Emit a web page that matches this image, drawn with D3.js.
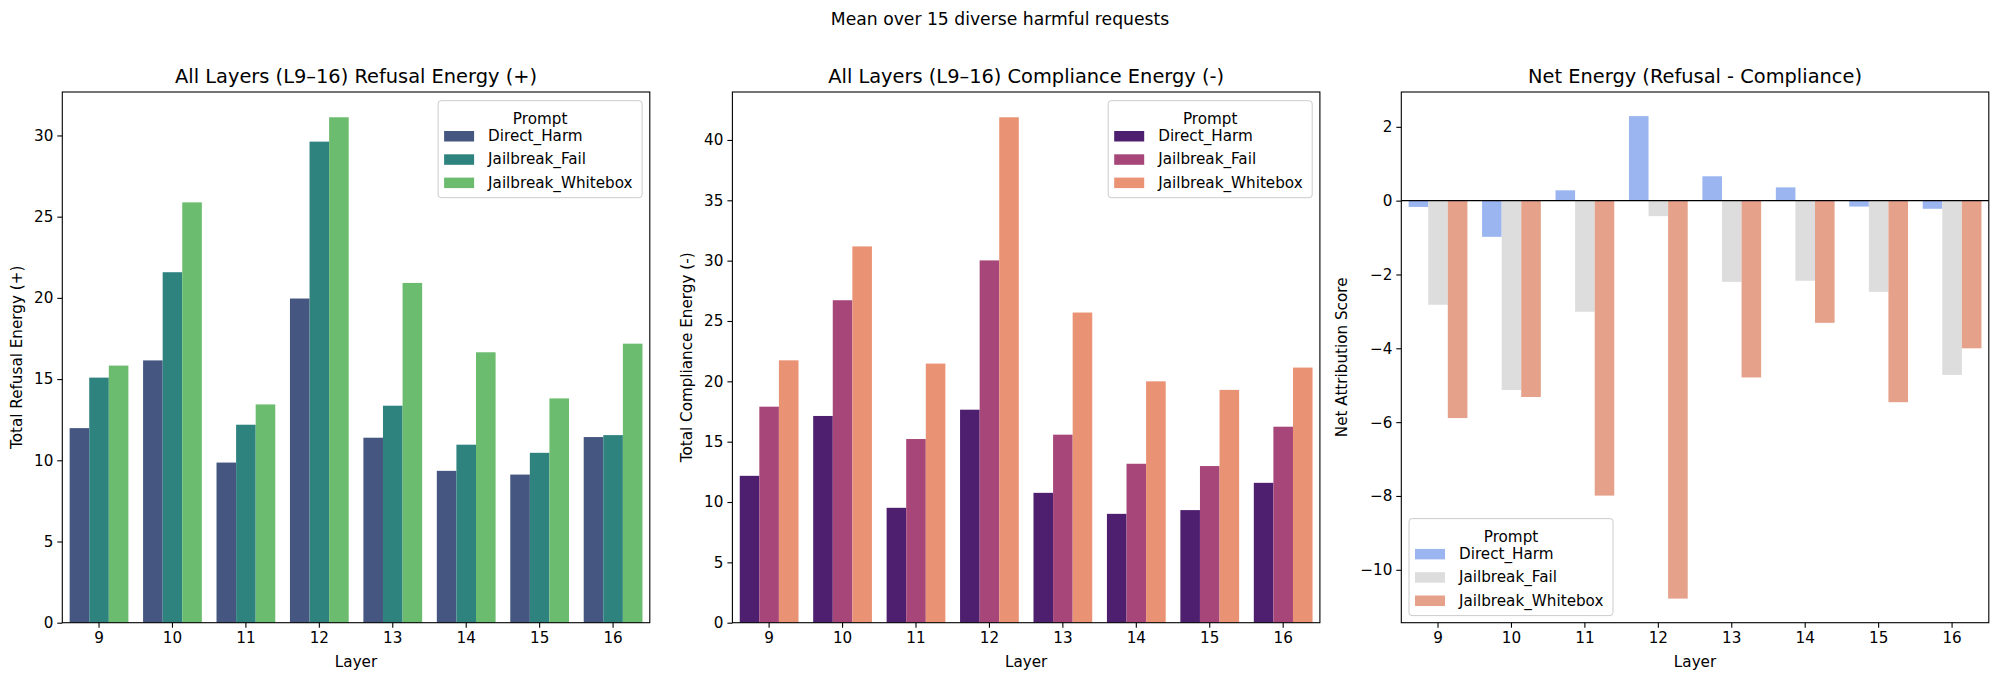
<!DOCTYPE html>
<html>
<head>
<meta charset="utf-8">
<script src="https://cdn.jsdelivr.net/npm/d3@7/dist/d3.min.js"></script>
<style>
  html, body { margin: 0; padding: 0; background: #fff; }
  svg { display: block; font-family: "DejaVu Sans", sans-serif; }
</style>
</head>
<body>
<svg id="chart" width="2000" height="681"></svg>
<script>
// ---------- data ----------
const layers = ["9", "10", "11", "12", "13", "14", "15", "16"];
const prompts = ["Direct_Harm", "Jailbreak_Fail", "Jailbreak_Whitebox"];

const refusalDirect    = [11.98, 16.15, 9.86, 19.96, 11.39, 9.35, 9.12, 11.43];
const refusalFail      = [15.09, 21.58, 12.19, 29.62, 13.36, 10.96, 10.46, 11.55];
const refusalWhitebox  = [15.83, 25.88, 13.44, 31.12, 20.92, 16.65, 13.81, 17.18];

const complianceDirect   = [12.17, 17.13, 9.52, 17.65, 10.76, 9.02, 9.33, 11.59];
const complianceFail     = [17.90, 26.72, 15.22, 30.02, 15.58, 13.17, 12.98, 16.24];
const complianceWhitebox = [21.74, 31.18, 21.47, 41.88, 25.70, 20.00, 19.29, 21.14];

const netDirect   = [-0.17, -0.98, 0.28, 2.29, 0.66, 0.36, -0.16, -0.22];
const netFail     = [-2.82, -5.13, -3.01, -0.42, -2.20, -2.17, -2.47, -4.72];
const netWhitebox = [-5.89, -5.32, -7.99, -10.78, -4.79, -3.31, -5.46, -4.00];

const refusalTicks = [0, 5, 10, 15, 20, 25, 30];
const complianceTicks = [0, 5, 10, 15, 20, 25, 30, 35, 40];
const netTicks = [-10, -8, -6, -4, -2, 0, 2];

const suptitle = "Mean over 15 diverse harmful requests";

// ---------- layout / style ----------
const svg = d3.select("#chart");
const TOP = 92, BOTTOM = 622.7, PW = 587.5;
const FONT = 15.2;

svg.append("text")
  .attr("x", 1000).attr("y", 25)
  .attr("text-anchor", "middle")
  .attr("font-size", 17.2).attr("fill", "#000")
  .text(suptitle);

function panel(cfg) {
  const left = cfg.left, right = left + PW;
  const g = svg.append("g");

  const x = d3.scaleBand().domain(layers).range([left, right]).padding(0);
  const hue = d3.scaleBand().domain(prompts)
    .range([x.bandwidth() * 0.1, x.bandwidth() * 0.9]).padding(0);
  const y = d3.scaleLinear().domain(cfg.domain).range([BOTTOM, TOP]);
  const color = d3.scaleOrdinal().domain(prompts).range(cfg.colors);

  const rows = [];
  prompts.forEach((p, pi) => {
    cfg.series[pi].forEach((v, li) => rows.push({ layer: layers[li], prompt: p, value: v }));
  });

  g.selectAll("rect.bar").data(rows).enter().append("rect")
    .attr("class", "bar")
    .attr("x", d => x(d.layer) + hue(d.prompt))
    .attr("width", hue.bandwidth())
    .attr("y", d => Math.min(y(d.value), y(0)))
    .attr("height", d => Math.abs(y(d.value) - y(0)))
    .attr("fill", d => color(d.prompt));

  if (cfg.zeroLine) {
    g.append("line")
      .attr("x1", left).attr("x2", right)
      .attr("y1", y(0)).attr("y2", y(0))
      .attr("stroke", "#000").attr("stroke-width", 1.4);
  }

  // axes
  const xAxis = d3.axisBottom(x).tickSize(5).tickPadding(5);
  const gx = g.append("g").attr("transform", `translate(0,${BOTTOM})`).call(xAxis);
  const yAxis = d3.axisLeft(y).tickValues(cfg.ticks).tickSize(5).tickPadding(4)
    .tickFormat(d3.format("d"));
  const gy = g.append("g").attr("transform", `translate(${left},0)`).call(yAxis);
  [gx, gy].forEach(a => {
    a.select(".domain").remove();
    a.selectAll(".tick line").attr("stroke", "#000").attr("stroke-width", 1.1);
    a.selectAll(".tick text").attr("font-size", FONT).attr("fill", "#000")
      .attr("font-family", "DejaVu Sans");
  });

  // frame
  g.append("rect")
    .attr("x", left).attr("y", TOP)
    .attr("width", PW).attr("height", BOTTOM - TOP)
    .attr("fill", "none").attr("stroke", "#000").attr("stroke-width", 1.1);

  // title
  g.append("text")
    .attr("x", left + PW / 2).attr("y", 83)
    .attr("text-anchor", "middle").attr("font-size", 19.4).attr("fill", "#000")
    .text(cfg.title);

  // axis labels
  g.append("text")
    .attr("x", left + PW / 2).attr("y", 667)
    .attr("text-anchor", "middle").attr("font-size", FONT).attr("fill", "#000")
    .text("Layer");
  const yl = left - cfg.ylabelOffset, ym = (TOP + BOTTOM) / 2;
  g.append("text")
    .attr("transform", `translate(${yl},${ym}) rotate(-90)`)
    .attr("text-anchor", "middle").attr("dominant-baseline", "central")
    .attr("font-size", FONT).attr("fill", "#000")
    .text(cfg.ylabel);

  // legend
  const lx = cfg.legendRight ? right - 7.7 - 204 : left + 7.7;
  const ly = cfg.legendRight ? 100.7 : 518.6;
  const lg = g.append("g").attr("transform", `translate(${lx},${ly})`);
  lg.append("rect").attr("width", 204).attr("height", 97).attr("rx", 3)
    .attr("fill", "#fff").attr("fill-opacity", 0.8)
    .attr("stroke", "#cccccc").attr("stroke-width", 1);
  lg.append("text").attr("x", 102).attr("y", 23).attr("text-anchor", "middle")
    .attr("font-size", FONT).attr("fill", "#000").text("Prompt");
  prompts.forEach((p, i) => {
    const cy = 35.5 + i * 23.3;
    lg.append("rect").attr("x", 6).attr("y", cy - 5.2).attr("width", 30).attr("height", 10.5)
      .attr("fill", color(p));
    lg.append("text").attr("x", 50).attr("y", cy).attr("dominant-baseline", "central")
      .attr("font-size", FONT).attr("fill", "#000").text(p);
  });
}

function padDomain(arrs, includeZeroMin) {
  const all = arrs.flat();
  let lo = Math.min(0, d3.min(all)), hi = Math.max(0, d3.max(all));
  const m = (hi - lo) * 0.05;
  return [includeZeroMin ? 0 : lo - m, hi + m];
}

panel({
  left: 62.3,
  title: "All Layers (L9–16) Refusal Energy (+)",
  ylabel: "Total Refusal Energy (+)",
  series: [refusalDirect, refusalFail, refusalWhitebox],
  domain: padDomain([refusalDirect, refusalFail, refusalWhitebox], true),
  ticks: refusalTicks,
  colors: ["#455681", "#2f837f", "#6bbc6e"],
  legendRight: true,
  ylabelOffset: 45
});

panel({
  left: 732.4,
  title: "All Layers (L9–16) Compliance Energy (-)",
  ylabel: "Total Compliance Energy (-)",
  series: [complianceDirect, complianceFail, complianceWhitebox],
  domain: padDomain([complianceDirect, complianceFail, complianceWhitebox], true),
  ticks: complianceTicks,
  colors: ["#4f1f6f", "#a74779", "#e99274"],
  legendRight: true,
  ylabelOffset: 45.5
});

panel({
  left: 1401.3,
  title: "Net Energy (Refusal - Compliance)",
  ylabel: "Net Attribution Score",
  series: [netDirect, netFail, netWhitebox],
  domain: padDomain([netDirect, netFail, netWhitebox], false),
  ticks: netTicks,
  colors: ["#9bb5f0", "#dddddd", "#e5a18a"],
  legendRight: false,
  zeroLine: true,
  ylabelOffset: 59
});
</script>
</body>
</html>
